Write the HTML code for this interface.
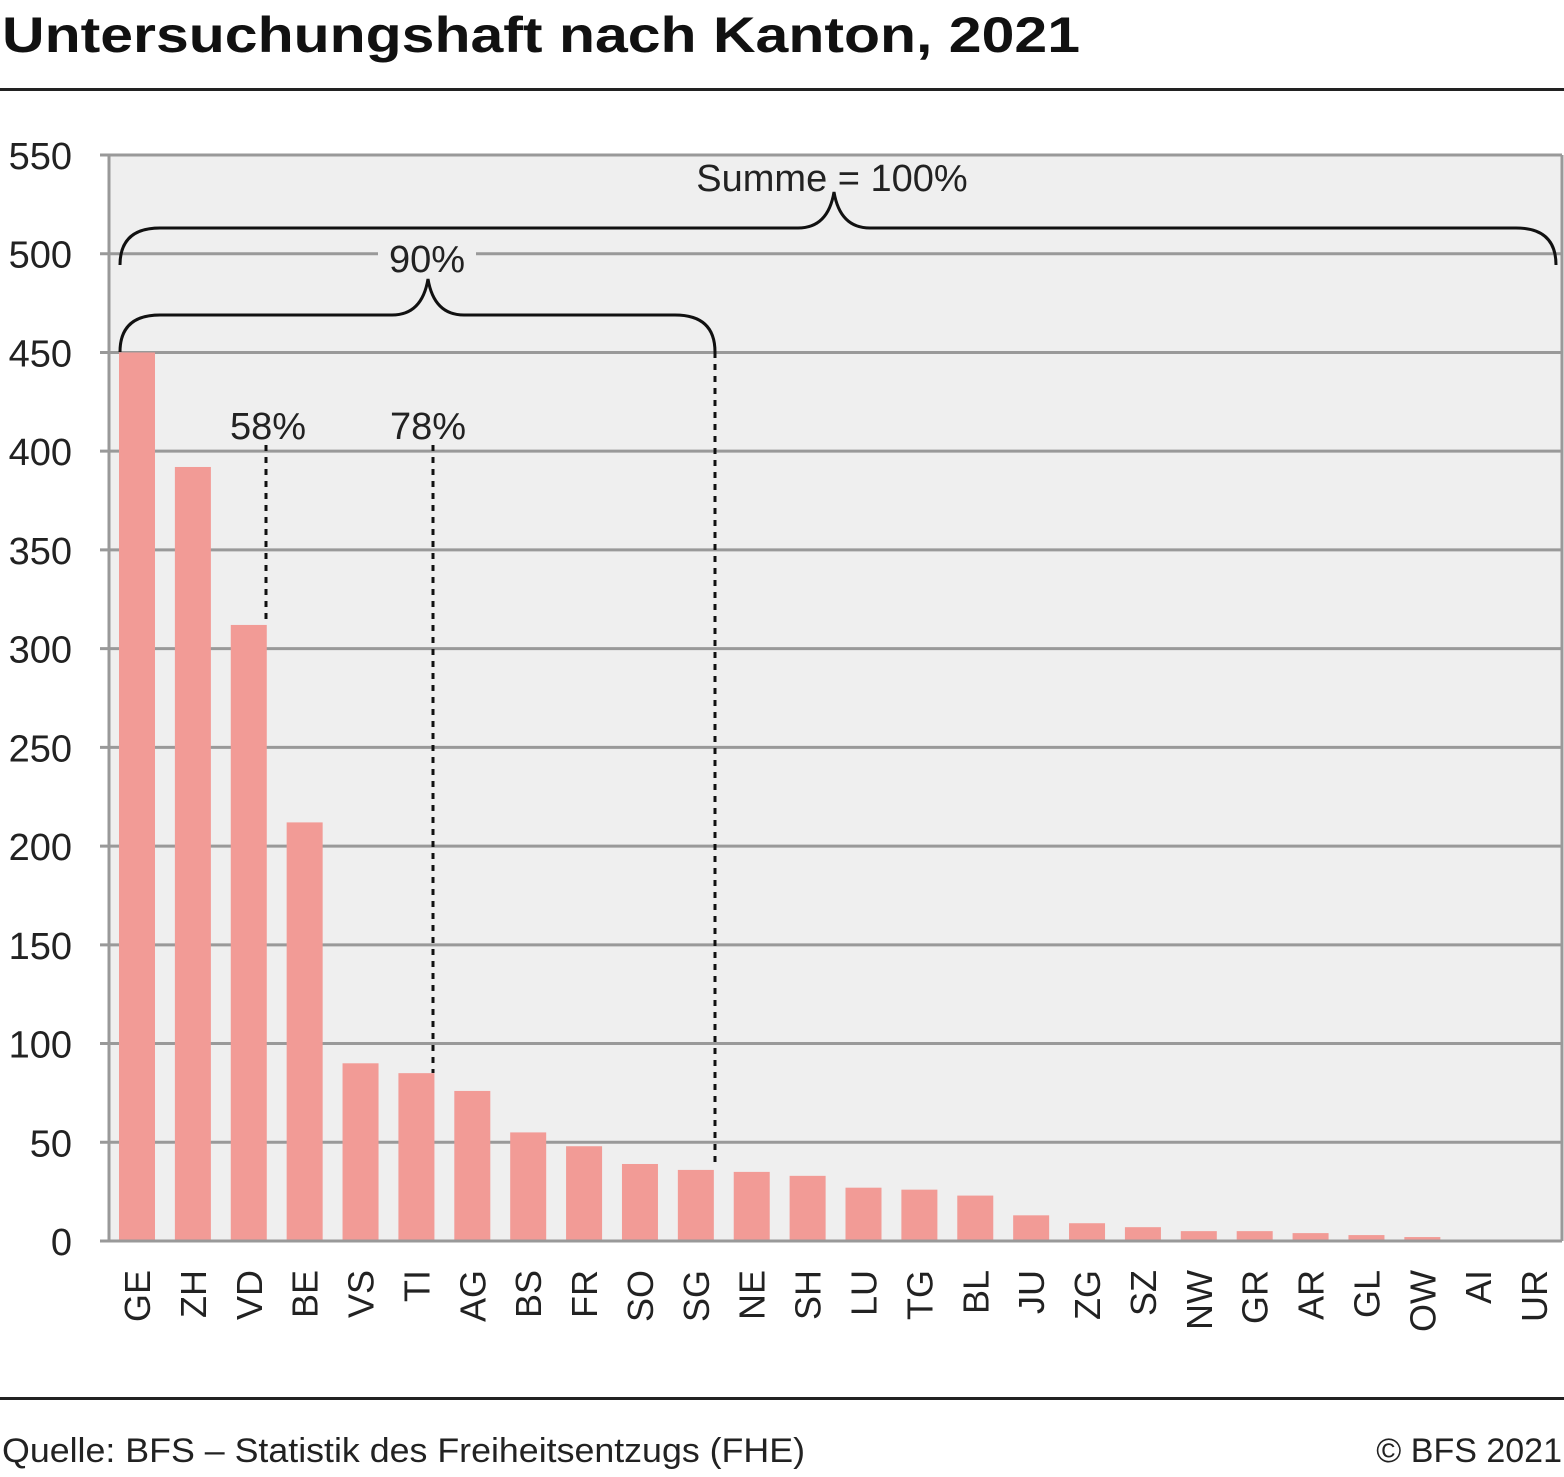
<!DOCTYPE html>
<html><head><meta charset="utf-8"><style>
body{margin:0;background:#fff;width:1564px;height:1472px;overflow:hidden;font-family:"Liberation Sans",sans-serif}
text{font-family:"Liberation Sans",sans-serif}
</style></head><body>
<svg id="chart" width="1564" height="1472" xmlns="http://www.w3.org/2000/svg">
<text x="2" y="52" font-size="50" font-weight="bold" fill="#111" textLength="1078" lengthAdjust="spacingAndGlyphs">Untersuchungshaft nach Kanton, 2021</text>
<rect x="0" y="88" width="1564" height="3" fill="#222"/>
<rect x="109" y="155" width="1453" height="1086" fill="#efefef"/>
<g id="grid"></g>
<line x1="109" y1="155" x2="109" y2="1241" stroke="#999" stroke-width="3"/>
<line x1="1562" y1="155" x2="1562" y2="1241" stroke="#999" stroke-width="3"/>
<g id="bars"></g>
<g id="xlabels"></g>
<g id="annot" fill="none" stroke="#111" stroke-width="3">
<path d="M120,265 Q120,228 160,228 L798,228 Q828,228 834,192 Q840,228 870,228 L1516,228 Q1556,228 1556,265"/>
<rect x="378" y="240" width="98" height="30" fill="#efefef" stroke="none"/>
<path d="M120,352 Q120,315 160,315 L392,315 Q422,315 428,279 Q434,315 464,315 L675,315 Q715,315 715,352"/>
<line x1="266" y1="445" x2="266" y2="622" stroke-dasharray="6,6"/>
<line x1="433" y1="445" x2="433" y2="1073" stroke-dasharray="6,6"/>
<line x1="715" y1="352" x2="715" y2="1168" stroke-dasharray="6,6"/>
</g>
<g font-size="38" fill="#222" text-anchor="middle">
<text x="832" y="191">Summe = 100%</text>
<text x="427" y="272">90%</text>
<text x="268" y="439">58%</text>
<text x="428" y="439">78%</text>
</g>
<rect x="0" y="1397" width="1564" height="3" fill="#222"/>
<text x="2" y="1462" font-size="34" fill="#222" textLength="803" lengthAdjust="spacingAndGlyphs">Quelle: BFS – Statistik des Freiheitsentzugs (FHE)</text>
<text x="1562" y="1462" font-size="34" fill="#222" text-anchor="end">© BFS 2021</text>
</svg>
<script>
const cantons=["GE","ZH","VD","BE","VS","TI","AG","BS","FR","SO","SG","NE","SH","LU","TG","BL","JU","ZG","SZ","NW","GR","AR","GL","OW","AI","UR"];
const values=[450,392,312,212,90,85,76,55,48,39,36,35,33,27,26,23,13,9,7,5,5,4,3,2,0,0];
const yTicks=[0,50,100,150,200,250,300,350,400,450,500,550];
const NS="http://www.w3.org/2000/svg";
const x0=109,x1=1562,y0=1241,y1=155,yMax=550;
const band=(x1-x0)/cantons.length;
const yS=v=>y0-(v/yMax)*(y0-y1);
const xS=i=>x0+band*i+10;
function mk(t,a,p){const e=document.createElementNS(NS,t);for(const k in a)e.setAttribute(k,a[k]);p.appendChild(e);return e;}
const grid=document.getElementById('grid');
yTicks.forEach(v=>{
  const y=yS(v);
  const l=mk('line',{x1:100,x2:x1,y1:y,y2:y,stroke:'#999','stroke-width':3},grid);
  
  
  const t=mk('text',{x:72,y:y+14,'font-size':38,fill:'#222','text-anchor':'end'},grid);
  t.textContent=v;
  
  
});
const bars=document.getElementById('bars'),xl=document.getElementById('xlabels');
cantons.forEach((c,i)=>{
  const y=yS(values[i]);
  const r=mk('rect',{x:xS(i),y:y,width:36,height:y0-1.5-y,fill:'#f29b96'},bars);
  
  
  const cx=xS(i)+18+13;
  const t=mk('text',{x:0,y:0,'font-size':36,fill:'#222','text-anchor':'end',transform:`translate(${cx},1270) rotate(-90)`},xl);
  t.textContent=c;
  
  
});
</script>
</body></html>
